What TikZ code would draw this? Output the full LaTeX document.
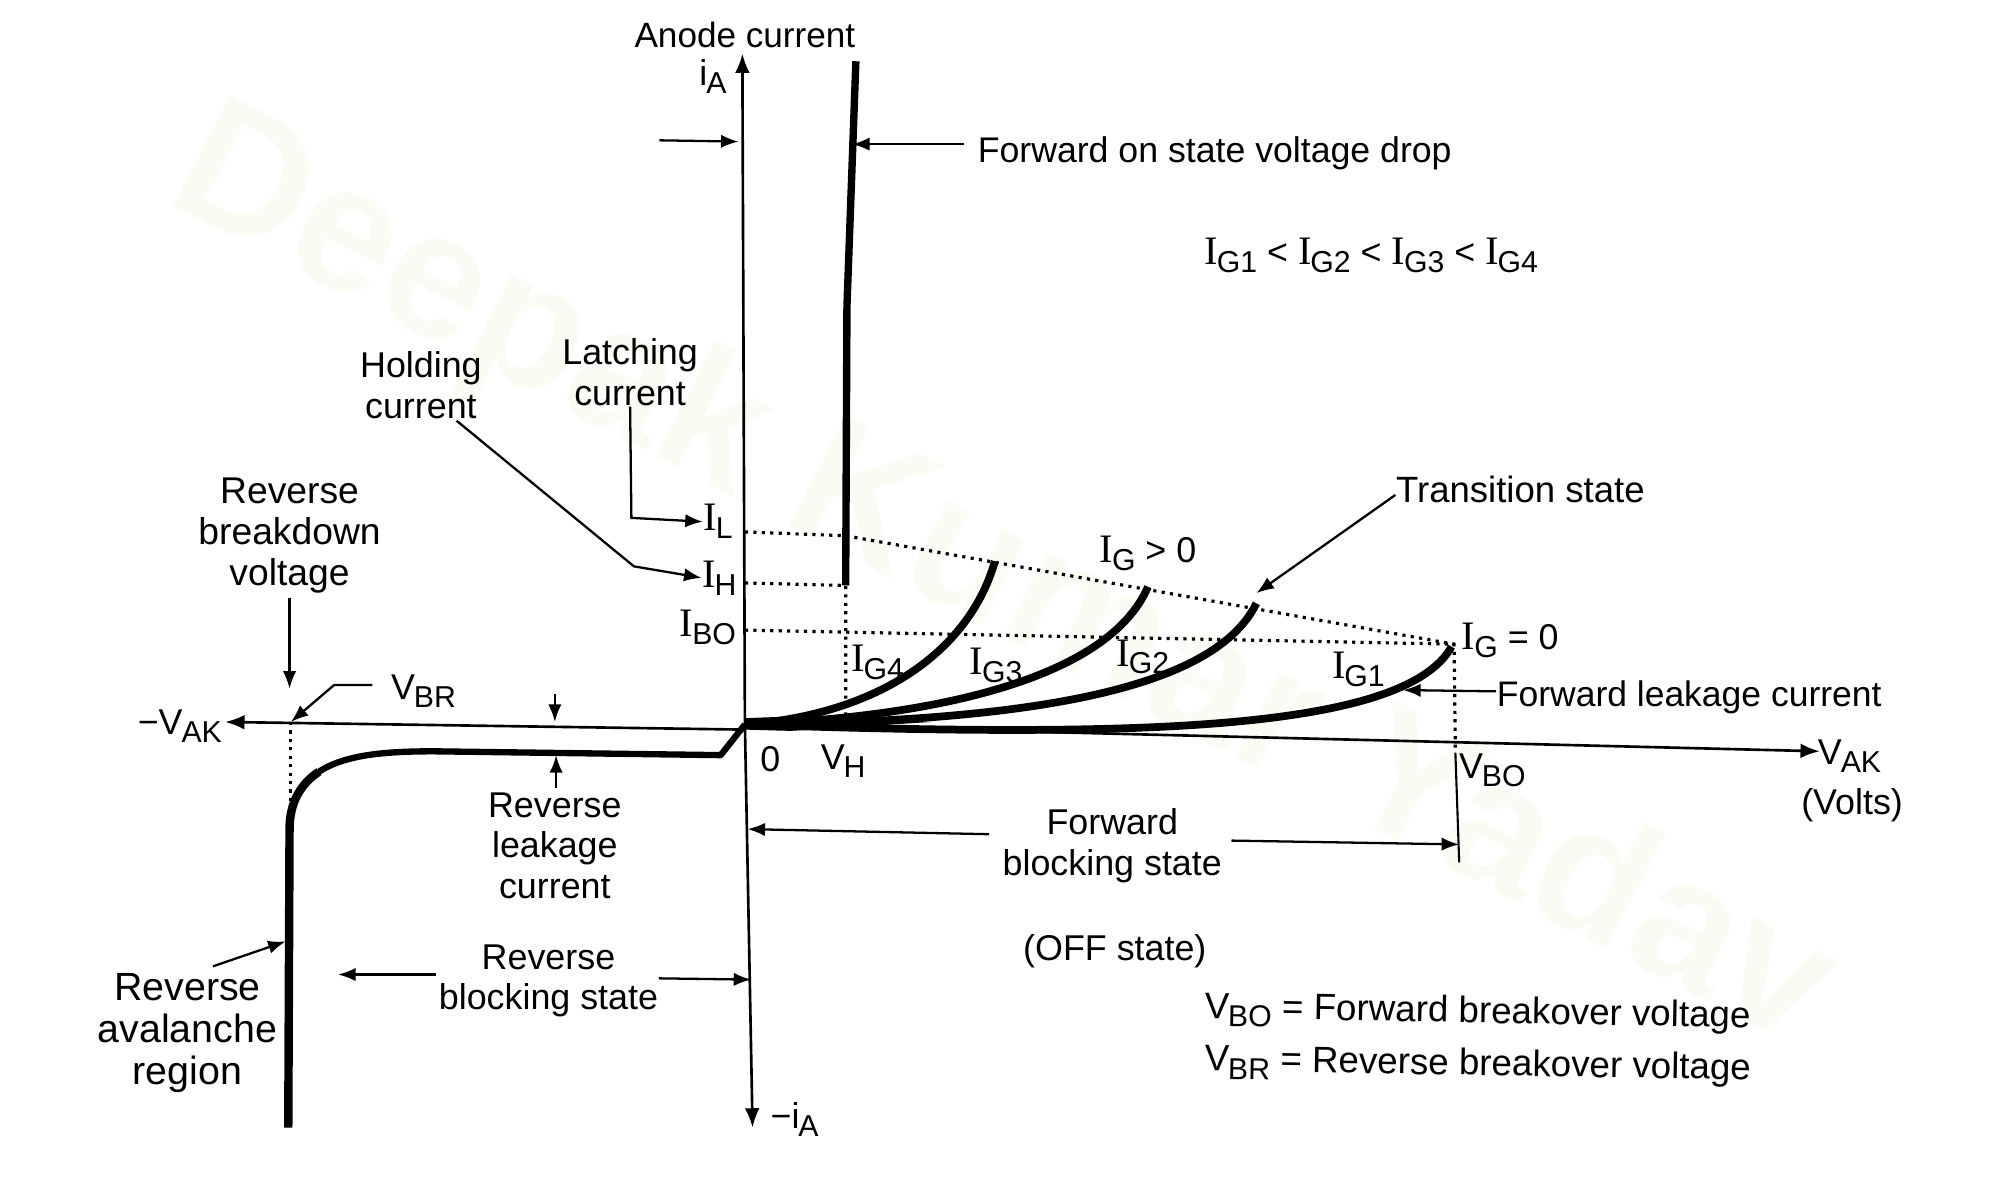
\documentclass[tikz,border=0pt]{standalone}
\usepackage{fontspec}
\setmainfont{Liberation Sans}
\newfontfamily\serifI{Liberation Serif}
\usepackage{xcolor}
\usetikzlibrary{arrows.meta, positioning}
\definecolor{markcol}{HTML}{FBFBF3}
\newcommand{\subs}[2]{#1\kern-0.3pt\raisebox{-0.42ex}{\fontsize{8.6}{9}\selectfont #2}}
\newcommand{\cur}[1]{\subs{{\serifI\fontsize{11.5}{12}\selectfont I}}{#1}}
\tikzset{
  lab/.style={align=center, inner sep=0pt, font=\fontsize{10.2}{11.6}\selectfont},
  axisline/.style={line width=0.75pt, -{Latex[length=5.5pt,width=4.2pt]}},
  pointer/.style={line width=0.65pt, -{Latex[length=5pt,width=3.8pt]}},
  boldcurve/.style={line width=2.2pt},
  dots/.style={line width=0.9pt, dash pattern=on 0.9pt off 1.5pt},
}

\begin{document}
\begin{tikzpicture}[x=0.012755cm, y=-0.012755cm]
\useasboundingbox (0,0) rectangle (1568,928);
\node[rotate=-27.4, text=markcol, inner sep=0pt, font=\bfseries\fontsize{51.5}{52}\selectfont] (watermark) at (785,457) {Deepak Kumar Yadav};

\coordinate (origin) at (584,568);
\coordinate (top) at (582,42);
\coordinate (bottom) at (590,884);
\coordinate (il) at (584,417);
\coordinate (ih) at (584,457);
\coordinate (ibo) at (584,494);
\coordinate (bend) at (663,420);
\coordinate (hold) at (663,459);
\coordinate (vh) at (663,560);
\coordinate (peak) at (1140,505);
\coordinate (vbo) at (1141,590);
\coordinate (vbolow) at (1144,676);
\coordinate (vbr) at (228,566);
\coordinate (vbrlow) at (228,632);
\coordinate (gfour) at (780,440);
\coordinate (gthree) at (900,460);
\coordinate (gtwo) at (985,473);
\coordinate (gone) at (1138,507);

\node[lab, font=\fontsize{10}{11.6}\selectfont] (anode) at (584,27) {Anode current};
\node[lab] (ia) at (559,60) {\subs{i}{A}};
\node[lab, anchor=west, font=\fontsize{10.15}{11.6}\selectfont] (drop) at (766,120) {Forward on state voltage drop};
\node[lab] (order) at (1075,200) {\cur{G1} < \cur{G2} < \cur{G3} < \cur{G4}};
\node[lab] (holding) at (330,302) {Holding\\current};
\node[lab] (latching) at (494,292) {Latching\\current};
\node[lab, font=\fontsize{10.6}{11.7}\selectfont] (breakdown) at (227,420) {Reverse\\breakdown\\voltage};
\node[lab] (ilab) at (563,409) {\cur{L}};
\node[lab] (ihlab) at (564,453) {\cur{H}};
\node[lab] (ibolab) at (555,492) {\cur{BO}};
\node[lab] (negv) at (141,569) {\textminus\subs{V}{AK}};
\node[lab] (vbrlab) at (332,542) {\subs{V}{BR}};
\node[lab] (zero) at (604,595) {0};
\node[lab] (vhlab) at (661,597) {\subs{V}{H}};
\node[lab] (gfourlab) at (688,519) {\cur{G4}};
\node[lab] (gthreelab) at (781,522) {\cur{G3}};
\node[lab] (gtwolab) at (896,515) {\cur{G2}};
\node[lab] (gonelab) at (1065,525) {\cur{G1}};
\node[lab] (gpos) at (900,434) {\cur{G} > 0};
\node[lab] (gzero) at (1184,502) {\cur{G} = 0};
\node[lab, anchor=west, font=\fontsize{10.4}{11.6}\selectfont] (transition) at (1094,384) {Transition state};
\node[lab, anchor=west, font=\fontsize{10.1}{11.6}\selectfont] (leakfwd) at (1173,547) {Forward leakage current};
\node[lab] (vak) at (1450,593) {\subs{V}{AK}};
\node[lab] (volts) at (1452,631) {(Volts)};
\node[lab] (vbolab) at (1170,604) {\subs{V}{BO}};
\node[lab] (fwdblock) at (872,663) {Forward\\blocking state};
\node[lab] (offstate) at (874,746) {(OFF state)};
\node[lab] (leakrev) at (435,663) {Reverse\\leakage\\current};
\node[lab] (revblock) at (430,769) {Reverse\\blocking state};
\node[lab, font=\fontsize{11.2}{12}\selectfont] (avalanche) at (147,810) {Reverse\\avalanche\\region};
\node[lab] (nia) at (623,878) {\textminus\subs{i}{A}};
\node[lab, anchor=west, rotate=-1, font=\fontsize{10.45}{11.6}\selectfont] (vbodef) at (944,791) {\subs{V}{BO} = Forward breakover voltage};
\node[lab, anchor=west, rotate=-1, font=\fontsize{10.45}{11.6}\selectfont] (vbrdef) at (944,832) {\subs{V}{BR} = Reverse breakover voltage};

\draw[axisline] (origin) -- (top);
\draw[axisline] (origin) -- (bottom);
\draw[axisline] (origin) ++(0,4) -- ([shift={(2,-3)}]negv.east);
\draw[axisline] (origin) -- ([shift={(2,-4)}]vak.west);

\draw[dots] (il) -- (bend) -- (peak);
\draw[dots] (ih) -- (hold) -- (vh);
\draw[dots] (ibo) -- (peak) -- (vbo);
\draw[dots] (vbr) -- (vbrlow);
\draw[line width=0.6pt] (vbo) -- (vbolow);

\draw[line width=2.1pt] (671,48) -- (664,240) -- (hold);
\draw[boldcurve] (origin) .. controls (690,560) and (760,510) .. (gfour);
\draw[boldcurve] (origin) .. controls (740,562) and (870,530) .. (gthree);
\draw[boldcurve] (origin) .. controls (790,566) and (950,545) .. (gtwo);
\draw[boldcurve] (origin) .. controls (880,578) and (1100,575) .. (gone);
\fill (584,563) -- (640,561) -- (730,566) -- (620,573) -- (584,572) -- cycle;
\draw[line width=1.8pt, line join=round] (origin) -- (565,592) -- (340,589) .. controls (300,589) and (270,592) .. (250,605);
\draw[line width=2.4pt] (250,605) .. controls (235,615) and (227,630) .. (227,650) -- (226,884);

\draw[pointer] (517,110) -- (579,111);
\draw[pointer] ([shift={(-10,-7)}]drop.west) -- (668,113);
\draw[pointer] (latching.south) -- (495,406) -- (ilab.west);
\draw[pointer] ([shift={(28,1)}]holding.south) -- (497,444) -- (ihlab.west);
\draw[pointer] ([shift={(0,3)}]breakdown.south) -- (227,540);
\draw[pointer] ([shift={(-14,-5)}]vbrlab.west) -- (262,537) -- (vbr);
\draw[pointer] (435,544) -- (435,566);
\draw[pointer] ([shift={(1,-3)}]leakrev.north) -- (436,592);
\draw[pointer] ([shift={(-10,-9)}]fwdblock.west) -- (586,650);
\draw[pointer] ([shift={(7,-4)}]fwdblock.east) -- (vbolow |- 0,662);
\draw[pointer] ([shift={(-2,-5)}]revblock.west) -- (265,764);
\draw[pointer] ([shift={(0,-2)}]revblock.east) -- (589,768);
\draw[pointer] ([shift={(20,-5)}]avalanche.north) -- (224,738);
\draw[pointer] ([shift={(0,4)}]transition.west) -- (985,465);
\draw[pointer] ([shift={(0,-5)}]leakfwd.west) -- (1100,541);
\end{tikzpicture}
\end{document}
